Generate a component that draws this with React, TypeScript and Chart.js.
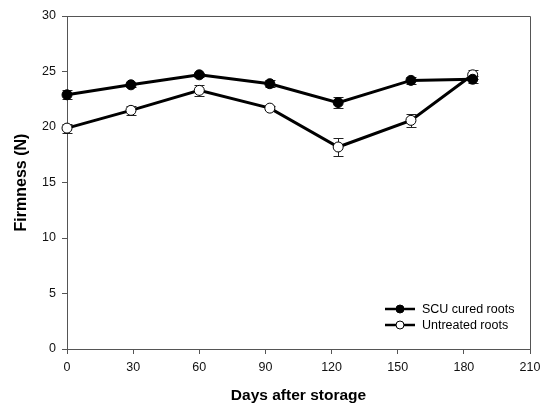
import React, { useEffect, useRef } from "react";
import { Chart, registerables } from "chart.js";

Chart.register(...registerables);

const days = [0, 29, 60, 92, 123, 156, 184];
const scuValues = [22.9, 23.8, 24.7, 23.9, 22.2, 24.2, 24.3];
const scuErrors = [0.4, 0.2, 0.2, 0.3, 0.5, 0.3, 0.3];
const untreatedValues = [19.9, 21.5, 23.3, 21.7, 18.2, 20.6, 24.7];
const untreatedErrors = [0.4, 0.4, 0.5, 0.2, 0.8, 0.6, 0.4];
const xTicks = [0, 30, 60, 90, 120, 150, 180, 210];
const yTicks = [0, 5, 10, 15, 20, 25, 30];
const seriesLabels = ["SCU cured roots", "Untreated roots"];
const errorSets = [scuErrors, untreatedErrors];

const FONT = "'Liberation Sans', Arial, sans-serif";

const errorBarPlugin = {
  id: "errorBars",
  beforeDatasetsDraw(chart: any) {
    const ctx = chart.ctx;
    const xs = chart.scales.x;
    const ys = chart.scales.y;
    ctx.save();
    ctx.strokeStyle = "#222";
    ctx.lineWidth = 1;
    chart.data.datasets.forEach((ds: any, i: number) => {
      const errs = errorSets[i];
      ds.data.forEach((p: any, j: number) => {
        const x = Math.round(xs.getPixelForValue(p.x)) + 0.5;
        const yT = Math.round(ys.getPixelForValue(p.y + errs[j])) + 0.5;
        const yB = Math.round(ys.getPixelForValue(p.y - errs[j])) + 0.5;
        ctx.beginPath();
        ctx.moveTo(x, yT);
        ctx.lineTo(x, yB);
        ctx.moveTo(x - 5, yT);
        ctx.lineTo(x + 5, yT);
        ctx.moveTo(x - 5, yB);
        ctx.lineTo(x + 5, yB);
        ctx.stroke();
      });
    });
    ctx.restore();
  },
};

const framePlugin = {
  id: "frame",
  afterDraw(chart: any) {
    const { ctx, chartArea: a } = chart;
    ctx.save();
    ctx.strokeStyle = "#555";
    ctx.lineWidth = 1;
    ctx.beginPath();
    ctx.moveTo(a.left, a.top + 0.5);
    ctx.lineTo(a.right + 0.5, a.top + 0.5);
    ctx.lineTo(a.right + 0.5, a.bottom);
    ctx.stroke();
    ctx.restore();
  },
};

const legendPlugin = {
  id: "insideLegend",
  afterDraw(chart: any) {
    const { ctx, chartArea: a } = chart;
    ctx.save();
    ctx.font = `12.5px ${FONT}`;
    ctx.textBaseline = "middle";
    chart.data.datasets.forEach((ds: any, i: number) => {
      const y = a.bottom - 40 + i * 16;
      const x0 = a.right - 145;
      ctx.strokeStyle = "#000";
      ctx.lineWidth = 2.5;
      ctx.beginPath();
      ctx.moveTo(x0, y);
      ctx.lineTo(x0 + 30, y);
      ctx.stroke();
      ctx.beginPath();
      ctx.arc(x0 + 15, y, 4, 0, Math.PI * 2);
      ctx.fillStyle = ds.pointBackgroundColor;
      ctx.fill();
      ctx.lineWidth = 1;
      ctx.stroke();
      ctx.fillStyle = "#000";
      ctx.fillText(ds.label, x0 + 37, y + 1);
    });
    ctx.restore();
  },
};

export default function App() {
  const ref = useRef<HTMLCanvasElement>(null);
  useEffect(() => {
    document.body.style.margin = "0";
    const chart = new Chart(ref.current!, {
      type: "line",
      data: {
        datasets: [
          {
            label: seriesLabels[0],
            data: days.map((d, i) => ({ x: d, y: scuValues[i] })),
            borderColor: "#000",
            borderWidth: 3,
            pointRadius: 5,
            pointBackgroundColor: "#000",
            pointBorderColor: "#000",
            pointBorderWidth: 1,
            clip: false as any,
          },
          {
            label: seriesLabels[1],
            data: days.map((d, i) => ({ x: d, y: untreatedValues[i] })),
            borderColor: "#000",
            borderWidth: 3,
            pointRadius: 5,
            pointBackgroundColor: "#fff",
            pointBorderColor: "#000",
            pointBorderWidth: 1,
            clip: false as any,
          },
        ],
      },
      options: {
        animation: false,
        responsive: false,
        layout: { padding: { top: 16, right: 14, left: 0, bottom: 0 } },
        plugins: { legend: { display: false }, tooltip: { enabled: false } },
        scales: {
          x: {
            type: "linear",
            min: 0,
            max: 210,
            afterBuildTicks: (s: any) => {
              s.ticks = xTicks.map((v) => ({ value: v }));
            },
            afterFit: (s: any) => {
              s.height = 54;
              s.paddingRight = 0;
              s.paddingLeft = 0;
            },
            grid: { display: true, drawOnChartArea: false, tickLength: 5, color: "#555" },
            border: { color: "#555", width: 1 },
            ticks: { color: "#111", font: { family: FONT, size: 12.5 }, padding: 6, maxRotation: 0 },
            title: {
              display: true,
              text: "Days after storage",
              color: "#000",
              font: { family: FONT, size: 15.5, weight: "bold", lineHeight: 1 },
              padding: { top: 13, bottom: 0 },
            },
          },
          y: {
            type: "linear",
            min: 0,
            max: 30,
            afterBuildTicks: (s: any) => {
              s.ticks = yTicks.map((v) => ({ value: v }));
            },
            afterFit: (s: any) => {
              s.width = 67;
            },
            grid: { display: true, drawOnChartArea: false, tickLength: 5, color: "#555" },
            border: { color: "#555", width: 1 },
            ticks: { color: "#111", font: { family: FONT, size: 12.5 }, padding: 6 },
            title: {
              display: true,
              text: "Firmness (N)",
              color: "#000",
              font: { family: FONT, size: 16, weight: "bold" },
              padding: { top: 12, bottom: 10 },
            },
          },
        },
      },
      plugins: [errorBarPlugin, framePlugin, legendPlugin],
    });
    return () => chart.destroy();
  }, []);
  return (
    <div style={{ position: "absolute", left: 0, top: 0, width: 544, height: 403, background: "#fff" }}>
      <canvas ref={ref} width={544} height={403} style={{ width: 544, height: 403 }} />
    </div>
  );
}
